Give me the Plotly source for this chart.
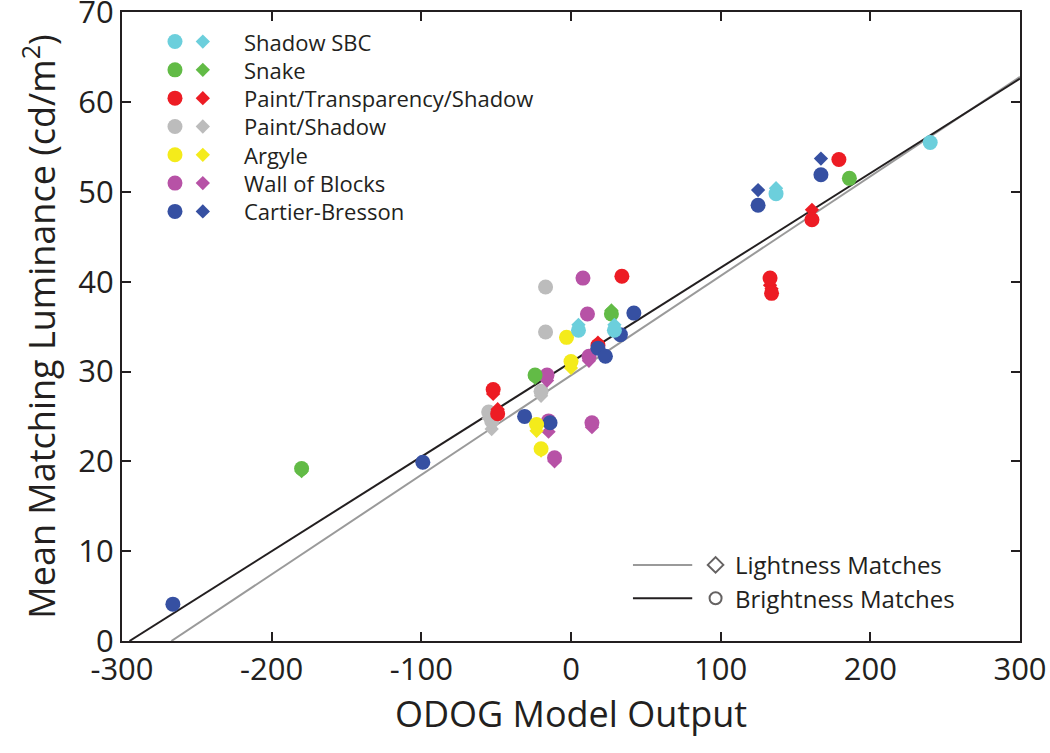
import plotly.graph_objects as go

# ---------------- data ----------------
scenario_names = ["Shadow SBC", "Snake", "Paint/Transparency/Shadow", "Paint/Shadow",
                  "Argyle", "Wall of Blocks", "Cartier-Bresson"]
scenario_colors = ["#6ccfdc", "#62bb46", "#ed1c24", "#bcbcbc", "#f4eb1b", "#b752a6", "#3650a2"]

sbc_odog = [240, 137, 29, 5]
sbc_bright = [55.5, 49.8, 34.6, 34.6]
sbc_light = [55.5, 50.4, 35.2, 35.2]

snake_odog = [-180, -24, 27, 186]
snake_bright = [19.2, 29.6, 36.4, 51.5]
snake_light = [18.9, 29.3, 36.8, 51.5]

pts_odog = [-52, -49, 18, 34, 133, 134, 161, 179]
pts_bright = [28.0, 25.3, 32.9, 40.6, 40.4, 38.7, 46.9, 53.6]
pts_light = [27.5, 25.8, 33.2, 40.6, 39.6, 39.2, 48.0, 53.6]

ps_odog = [-55, -53, -20, -17, -17]
ps_bright = [25.5, 24.5, 27.8, 39.4, 34.4]
ps_light = [24.8, 23.6, 27.3, 39.4, 34.4]

arg_odog = [-3, 0, -23, -20]
arg_bright = [33.8, 31.1, 24.1, 21.4]
arg_light = [33.8, 30.4, 23.4, 21.2]

wob_odog = [8, 11, 12, -16, -15, -11, 14]
wob_bright = [40.4, 36.4, 31.7, 29.6, 24.5, 20.4, 24.3]
wob_light = [40.4, 36.4, 31.2, 29.0, 23.3, 20.0, 23.8]

cb_odog = [-266, -99, -31, -14, 18, 23, 33, 42, 125, 167]
cb_bright = [4.1, 19.9, 25.0, 24.3, 32.6, 31.7, 34.1, 36.5, 48.5, 51.9]
cb_light = [4.1, 19.9, 25.0, 24.3, 32.6, 31.7, 34.1, 36.5, 50.2, 53.7]

# regression line endpoints
light_fit_x = [-267, 300]
light_fit_y = [0, 62.8]
bright_fit_x = [-295, 300]
bright_fit_y = [0, 62.6]

x_ticks = [-300, -200, -100, 0, 100, 200, 300]
y_ticks = [0, 10, 20, 30, 40, 50, 60, 70]

series = [
    (sbc_odog, sbc_bright, sbc_light),
    (snake_odog, snake_bright, snake_light),
    (pts_odog, pts_bright, pts_light),
    (ps_odog, ps_bright, ps_light),
    (arg_odog, arg_bright, arg_light),
    (wob_odog, wob_bright, wob_light),
    (cb_odog, cb_bright, cb_light),
]

FONT = "Open Sans"
INK = "#231f20"
fig = go.Figure()

# fit lines
fig.add_trace(go.Scatter(x=light_fit_x, y=light_fit_y, mode="lines",
                         line=dict(color="#9a9a9a", width=2), showlegend=False, hoverinfo="skip"))
fig.add_trace(go.Scatter(x=bright_fit_x, y=bright_fit_y, mode="lines",
                         line=dict(color=INK, width=2), showlegend=False, hoverinfo="skip"))

# draw order for points
order = [3, 2, 5, 6, 4, 1, 0]
for i in order:
    xs, yb, yl = series[i]
    fig.add_trace(go.Scatter(x=xs, y=yl, mode="markers", name=scenario_names[i] + " (lightness)",
                             marker=dict(symbol="diamond", size=11, color=scenario_colors[i],
                                         line=dict(width=0)), showlegend=False))
    fig.add_trace(go.Scatter(x=xs, y=yb, mode="markers", name=scenario_names[i] + " (brightness)",
                             marker=dict(symbol="circle", size=15, color=scenario_colors[i],
                                         line=dict(width=0)), showlegend=False))

# ---------- manual legend (top-left) on an overlay axis ----------
leg_rows = [0.953, 0.908, 0.863, 0.818, 0.773, 0.728, 0.683]
fig.add_trace(go.Scatter(x=[0.059] * 7, y=leg_rows, mode="markers", xaxis="x2", yaxis="y2",
                         marker=dict(symbol="circle", size=15, color=scenario_colors, line=dict(width=0)),
                         showlegend=False, hoverinfo="skip"))
fig.add_trace(go.Scatter(x=[0.090] * 7, y=leg_rows, mode="markers", xaxis="x2", yaxis="y2",
                         marker=dict(symbol="diamond", size=11, color=scenario_colors, line=dict(width=0)),
                         showlegend=False, hoverinfo="skip"))
for name, yy in zip(scenario_names, leg_rows):
    fig.add_annotation(x=0.134, y=yy, xref="x2", yref="y2", text=name, showarrow=False,
                       xanchor="left", yanchor="middle", font=dict(family=FONT, size=22, color=INK))

# ---------- lower-right legend ----------
fig.add_trace(go.Scatter(x=[0.569, 0.635], y=[0.121, 0.121], mode="lines", xaxis="x2", yaxis="y2",
                         line=dict(color="#9a9a9a", width=2), showlegend=False, hoverinfo="skip"))
fig.add_trace(go.Scatter(x=[0.569, 0.635], y=[0.068, 0.068], mode="lines", xaxis="x2", yaxis="y2",
                         line=dict(color=INK, width=2), showlegend=False, hoverinfo="skip"))
fig.add_trace(go.Scatter(x=[0.661, 0.661], y=[0.121, 0.068], mode="markers", xaxis="x2", yaxis="y2",
                         marker=dict(symbol=["diamond-open", "circle-open"], size=[12, 12],
                                     color=INK, line=dict(width=2, color=INK)),
                         showlegend=False, hoverinfo="skip"))
fig.add_annotation(x=0.680, y=0.121, xref="x2", yref="y2", text="Lightness Matches", showarrow=False,
                   xanchor="left", yanchor="middle", font=dict(family=FONT, size=24, color=INK))
fig.add_annotation(x=0.680, y=0.068, xref="x2", yref="y2", text="Brightness Matches", showarrow=False,
                   xanchor="left", yanchor="middle", font=dict(family=FONT, size=24, color=INK))

axis_common = dict(showgrid=False, zeroline=False, showline=True, linecolor=INK, linewidth=2,
                   ticks="inside", ticklen=9, tickwidth=1.5, tickcolor=INK, mirror="ticks",
                   automargin=False, ticklabeloverflow="allow",
                   tickfont=dict(family=FONT, size=31, color=INK))

fig.update_layout(
    width=1050, height=753,
    paper_bgcolor="white", plot_bgcolor="white",
    margin=dict(l=122, r=30, t=12, b=112),
    font=dict(family=FONT, color=INK),
    xaxis=dict(range=[-300, 300], tickvals=x_ticks, ticktext=[str(v) for v in x_ticks],
               title=dict(text="ODOG Model Output", font=dict(family=FONT, size=36), standoff=8),
               **axis_common),
    yaxis=dict(range=[0, 70.02], tickvals=y_ticks, ticktext=[str(v) for v in y_ticks],
               title=dict(text="Mean Matching Luminance (cd/m<sup>2</sup>)", font=dict(family=FONT, size=36),
                          standoff=12),
               **axis_common),
    xaxis2=dict(range=[0, 1], overlaying="x", visible=False, fixedrange=True),
    yaxis2=dict(range=[0, 1], overlaying="y", visible=False, fixedrange=True),
    showlegend=False,
)

# remove the default 8px page margin so the figure sits at the window's top-left corner
fig.write_html("out.html", config={"displayModeBar": False},
               post_script="document.body.style.margin='0px';")
